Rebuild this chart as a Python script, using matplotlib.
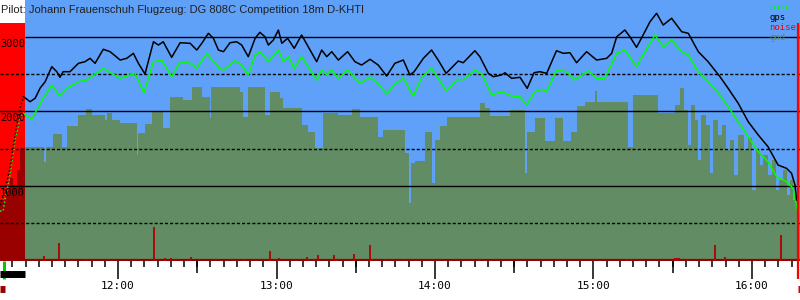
import matplotlib
matplotlib.use('Agg')
import matplotlib.pyplot as plt
from matplotlib.ticker import FixedLocator, FuncFormatter

# time in minutes after 11:00, altitudes in m
t_start, t_end = 15.3, 318.2
tow_start = 16.9
takeoff = 24.8
landing = 317.5

gps_t = [24.2, 26.7, 28.6, 30.5, 32.4, 34.9, 36.8, 38.0, 39.2, 41.8, 45.0, 47.5, 49.4, 51.3, 54.4, 57.0,
         60.8, 63.3, 65.8, 67.7, 70.2, 73.4, 75.3, 77.1, 80.3, 83.5, 87.3, 89.8, 91.7, 94.2, 96.1, 98.0,
         99.9, 102.4, 104.9, 106.8, 109.3, 111.9, 113.7, 115.6, 116.9, 118.8, 120.7, 122.0, 124.2, 126.7,
         129.5, 132.0, 135.2, 137.1, 139.0, 140.9, 143.4, 146.9, 149.7, 152.2, 155.4, 158.5, 161.7, 164.8,
         168.0, 170.5, 172.1, 175.6, 178.7, 181.2, 184.2, 188.8, 190.7, 195.1, 197.0, 200.2, 202.1, 205.2,
         206.5, 209.0, 212.2, 214.9, 217.5, 219.7, 222.3, 226.0, 228.6, 231.1, 233.6, 237.4, 241.2, 245.0,
         246.9, 248.8, 251.9, 253.8, 256.3, 258.8, 261.4, 263.9, 266.4, 269.6, 273.4, 275.9, 279.7, 283.4,
         287.9, 291.0, 294.8, 298.6, 302.4, 306.1, 309.9, 313.1, 315.0, 316.3, 316.9]
gps_alt = [2196, 2129, 2175, 2312, 2397, 2598, 2531, 2456, 2531, 2531, 2643, 2665, 2710, 2643, 2831, 2799,
           2687, 2710, 2777, 2643, 2500, 2932, 2888, 2932, 2723, 2919, 2911, 2821, 2911, 3045, 2978, 2821,
           2799, 2919, 2932, 2888, 2732, 2978, 3058, 2999, 2888, 2955, 3089, 2911, 2978, 2844,
           3022, 2865, 2665, 2821, 2732, 2799, 2687, 2799, 2665, 2620, 2697, 2620, 2473, 2643,
           2687, 2487, 2531, 2710, 2821, 2687, 2509, 2674, 2651, 2812, 2732, 2509, 2464, 2487,
           2517, 2442, 2456, 2308, 2517, 2531, 2509, 2812, 2777, 2785, 2651, 2799, 2687, 2710,
           2777, 2999, 3089, 2999, 2857, 3022, 3200, 3313, 3156, 3246, 3066, 3045, 2799, 2665,
           2464, 2308, 2108, 1861, 1683, 1526, 1281, 1237, 1170, 1014, 813]

baro_t = [24.2, 27.3, 29.2, 31.7, 34.9, 38.0, 40.6, 45.0, 48.2, 50.0, 54.4, 57.6, 60.8, 64.5, 66.4, 69.8,
          73.4, 76.5, 80.3, 83.5, 87.3, 89.8, 93.6, 98.3, 99.9, 104.3, 106.8, 109.3, 111.9, 113.7, 116.9,
          120.7, 122.6, 124.5, 126.7, 129.5, 135.2, 137.1, 139.0, 140.9, 143.4, 146.9, 151.6, 155.4, 158.5,
          161.7, 164.8, 168.0, 171.8, 175.0, 178.7, 181.2, 184.2, 188.8, 190.7, 195.1, 197.7, 201.5, 205.2,
          209.0, 212.2, 214.7, 217.8, 220.4, 222.3, 226.0, 229.8, 233.0, 238.0, 241.2, 244.3, 248.8, 251.9,
          256.3, 259.5, 263.3, 266.4, 269.6, 273.4, 275.9, 279.7, 283.4, 287.9, 291.0, 294.8, 298.6, 302.4,
          306.1, 309.3, 313.1, 315.6, 317.2]
baro_alt = [1974, 1893, 2018, 2175, 2353, 2205, 2308, 2397, 2420, 2464, 2576, 2509, 2442, 2487, 2509, 2250,
            2665, 2687, 2464, 2665, 2643, 2576, 2777, 2576, 2553, 2678, 2620, 2487, 2754, 2799, 2665,
            2821, 2665, 2732, 2576, 2732, 2420, 2553, 2487, 2553, 2442, 2553, 2375, 2456, 2375,
            2232, 2366, 2442, 2205, 2456, 2576, 2442, 2276, 2429, 2420, 2553, 2500, 2219, 2263,
            2205, 2196, 2085, 2263, 2295, 2263, 2553, 2531, 2420, 2544, 2442, 2442, 2777, 2821,
            2598, 2799, 3022, 2865, 2955, 2799, 2754, 2531, 2397, 2219, 2062, 1861, 1660, 1460,
            1326, 1125, 1058, 969, 679]

gnd_t = [24.8, 32.0, 32.6, 35.5, 38.7, 40.6, 45.0, 47.9, 50.0, 55.1, 56.0, 57.7, 60.8, 67.1, 67.4, 70.2,
         72.8, 77.1, 79.7, 84.7, 87.9, 91.7, 94.8, 95.2, 106.2, 107.3, 109.2, 115.6, 117.5, 121.3, 122.5,
         129.6, 131.9, 134.6, 137.6, 143.3, 148.6, 151.6, 158.4, 160.3, 168.6, 170.1, 170.9, 172.4, 176.2,
         178.9, 180.0, 181.9, 184.5, 197.0, 198.9, 200.8, 208.4, 214.1, 214.8, 217.8, 221.6, 225.4, 228.4,
         231.5, 233.7, 236.8, 240.6, 241.3, 253.0, 254.9, 264.4, 270.8, 272.7, 274.2, 275.7, 276.9, 278.4,
         279.5, 280.7, 282.6, 284.1, 285.2, 287.1, 288.6, 290.1, 291.6, 293.1, 294.6, 296.9, 298.4, 299.9,
         301.4, 303.0, 304.1, 306.0, 307.5, 309.0, 310.2, 311.7, 313.2, 314.4, 315.5, 317.0]
gnd_alt = [1522, 1322, 1522, 1697, 1522, 1804, 1951, 2031, 1951, 1884, 1978, 1884, 1844, 1415, 1710, 1831,
           1991, 1777, 2192, 2152, 2326, 2192, 1911, 2326, 2259, 1924, 2326, 1951, 2259, 2179, 2045,
           1817, 1723, 1509, 1978, 1951, 2031, 1924, 1656, 1750, 1442, 773, 1308, 1335, 1723,
           1040, 1616, 1804, 1924, 2112, 2045, 1938, 2018, 1174, 1723, 1911, 1603, 1911, 1603,
           1723, 2071, 2125, 2272, 2125, 1522, 2219, 1978, 2085, 2312, 2018, 1549, 2085, 1884,
           1348, 1951, 1817, 1174, 1884, 1683, 1817, 1482, 1616, 1148, 1683, 1482, 1643, 947,
           1482, 1281, 1415, 1148, 1348, 947, 1081, 1214, 880, 1081, 813, 813]

# aerotow part (engine noise period)
tow_t = [15.3, 17.2, 19.1, 21.0, 22.9, 24.2]
tow_gps = [746, 947, 1241, 1683, 2045, 2196]
tow_baro_t = [15.3, 16.5, 17.2, 19.1, 21.0, 22.9, 24.2]
tow_baro = [665, 665, 813, 1148, 1616, 1911, 1974]
tow_gnd_t = [15.3, 17.2, 19.1, 20.3, 21.8, 22.9, 24.8]
tow_gnd = [813, 947, 1107, 1014, 1214, 1509, 1509]

noise_t = [29.1, 32.1, 37.8, 48.0, 73.7, 77.8, 80.1, 87.7, 107.6, 117.6, 120.8, 131.7, 134.3, 135.8,
           141.9, 143.0, 149.3, 155.5, 156.6, 161.1, 168.7, 196.8, 252.8, 254.3, 270.9, 271.7, 272.5,
           275.6, 286.1, 289.9, 311.1, 314.9]
noise_h = [27, 67, 240, 27, 455, 40, 40, 54, 27, 134, 40, 54, 27, 80,
           80, 27, 94, 214, 27, 27, 27, 27, 27, 27, 40, 40, 40,
           27, 214, 54, 348, 27]

hours = [60, 120, 180, 240, 300]
half_hours = [90, 150, 210, 270]

BLUE = '#5fa0f8'
GND = '#628c64'
DARKRED = '#990000'

fig = plt.figure(figsize=(8, 3), dpi=100)
ax = fig.add_axes([0, 0.13, 1, 0.87])
ax.set_xlim(t_start, t_end)
ax.set_ylim(-4, 3491)
ax.set_facecolor('white')
for s in ax.spines.values():
    s.set_visible(False)

ax.axvspan(takeoff, t_end, color=BLUE, lw=0, zorder=0)
ax.axvspan(t_start, takeoff, ymax=0.912, color='#ff0000', lw=0, zorder=0.5)

ax.fill_between(gnd_t, gnd_alt, 0, step='post', color=GND, lw=0, zorder=1)
ax.fill_between(tow_gnd_t, tow_gnd, 0, step='post', color=DARKRED, lw=0, zorder=1)

# grid lines
for v in (1000, 2000):
    ax.axhline(v, color='k', lw=1.0, zorder=2)
ax.hlines(3000, takeoff, t_end, color='k', lw=1.0, zorder=2)
for v in (500, 1500, 2500):
    ax.axhline(v, color='k', lw=1.0, ls=(0, (2.2, 1.5)), zorder=2)

# noise
ax.axhline(8, color=DARKRED, lw=1.6, zorder=3)
ax.vlines(noise_t, 0, noise_h, color='#b00000', lw=1.3, zorder=3)

ax.plot(baro_t, baro_alt, color='#00ff00', lw=1.1, zorder=4)
ax.plot(gps_t, gps_alt, color='k', lw=1.1, zorder=5)
ax.plot(tow_baro_t, tow_baro, color='#00ff00', lw=1.1, ls=(0, (1, 1.5)), zorder=4)
ax.plot(tow_t, tow_gps, color='k', lw=1.1, ls=(0, (1, 1.5)), zorder=5)

for v in (1000, 2000, 3000):
    ax.annotate(str(v), (0, v), xycoords=('axes fraction', 'data'), xytext=(0, -1.5),
                textcoords='offset points', va='top', ha='left', fontsize=7.5,
                family='DejaVu Sans Mono', color='k', zorder=6)

# time axis
ax.xaxis.set_major_locator(FixedLocator(hours))
ax.xaxis.set_minor_locator(FixedLocator([m for m in range(20, 320, 5) if m % 60]))
ax.xaxis.set_major_formatter(FuncFormatter(lambda v, p: '%d:00' % (11 + int(v) // 60)))
ax.tick_params(axis='x', which='major', length=13, width=1.1, pad=1.5, labelsize=8)
ax.tick_params(axis='x', which='minor', length=4.3, width=1.1)
for lab in ax.get_xticklabels():
    lab.set_family('DejaVu Sans Mono')
ax.set_yticks([])
xt = ax.get_xaxis_transform()
ax.vlines(half_hours, 0, -12 / 261, transform=xt, color='k', lw=1.1, clip_on=False)

# event markers below the axis
ax.vlines([tow_start], 0, -18 / 261, transform=xt, color='#00cc00', lw=2.2, clip_on=False)
ax.hlines([-12.5 / 261], t_start, takeoff, transform=xt, color='k', lw=5, clip_on=False)
ax.hlines([-27.5 / 261], t_start, 17.2, transform=xt, color=DARKRED, lw=5, clip_on=False)
ax.hlines([-27.5 / 261], landing, t_end, transform=xt, color='#dd0000', lw=5, clip_on=False)
ax.vlines([landing], -18 / 261, 238 / 261, transform=xt, color='#ff0000', lw=1.6, clip_on=False, zorder=6)

fig.text(1 / 800, 1 - 10 / 300, 'Pilot: Johann Frauenschuh Flugzeug: DG 808C Competition 18m D-KHTI',
         fontsize=8, family='Liberation Sans', va='center', ha='left', color='#202020')
legend = [('baro', '#00ff00'), ('gps', 'k'), ('noise', '#ff0000'), ('gnd', '#6a8a5a')]
for i, (name, c) in enumerate(legend):
    fig.text(769 / 800, 1 - (7 + 10 * i) / 300, name, color=c, fontsize=6.5,
             family='DejaVu Sans Mono', va='center', ha='left')

fig.savefig('out.png', dpi=100)
